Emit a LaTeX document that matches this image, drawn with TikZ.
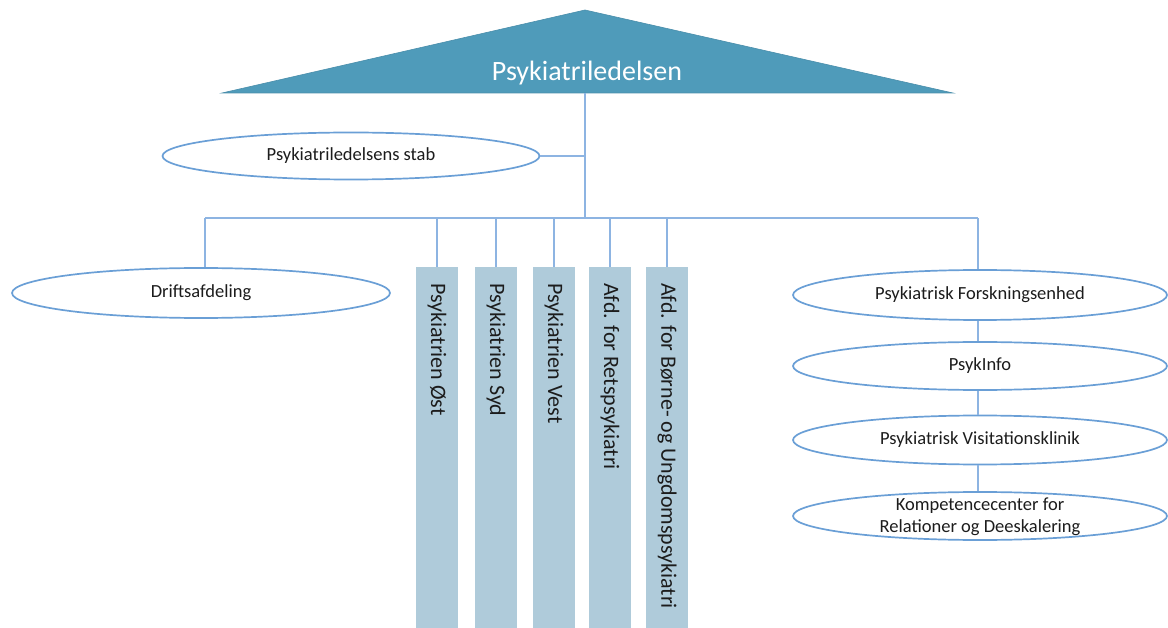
\documentclass[tikz,border=0pt]{standalone}
\usepackage{fontspec}
\setmainfont{Carlito}
\usetikzlibrary{shapes.geometric}
\definecolor{tri}{HTML}{4F9BBA}
\definecolor{trib}{HTML}{4A8EAB}
\definecolor{ell}{HTML}{6A9FD6}
\definecolor{lin}{HTML}{8DB4E2}
\definecolor{barc}{HTML}{AFCBDA}
\definecolor{txt}{HTML}{1C1C1C}
\begin{document}
\begin{tikzpicture}[x=1pt,y=-1pt,
  unit/.style={ellipse, draw=ell, line width=1.7pt, fill=white, minimum width=376pt,
    minimum height=48pt, inner sep=0pt, text=txt, font=\fontsize{18.5}{22}\selectfont, align=center},
  lbl/.style={inner sep=0pt, text=txt, font=\fontsize{18.5}{22}\selectfont, align=center},
  dept/.style={rectangle, fill=barc, rotate=-90, anchor=west, minimum width=361pt,
    minimum height=42pt, text width=361pt, inner xsep=0pt, inner ysep=0pt, align=flush left,
    text=txt, font=\fontsize{22}{26}\selectfont},
  conn/.style={draw=lin, line width=1.3pt}]
\useasboundingbox (0,0) rectangle (1168,628);
% top
\fill[tri, draw=trib, line width=0.6pt] (585,10) -- (953,93) -- (222,93) -- cycle;
\node[text=white, font=\fontsize{28}{32}\selectfont, inner sep=0pt] (top) at (587,73) {Psykiatriledelsen};
\coordinate (topbase) at (585,93);
\coordinate (bus) at (585,218);
% staff
\node[unit, minimum width=377pt, minimum height=47pt] (stab) at (351,156) {Psykiatriledelsens stab};
% left
\node[unit, minimum width=378pt, minimum height=50pt] (drift) at (201,293) {Driftsafdeling};
% bars
\node[dept] (b1) at (437,267) {\hspace*{16pt}Psykiatrien Øst};
\node[dept] (b2) at (496,267) {\hspace*{16pt}Psykiatrien Syd};
\node[dept] (b3) at (554,267) {\hspace*{16pt}Psykiatrien Vest};
\node[dept] (b4) at (610,267) {\hspace*{16pt}Afd. for Retspsykiatri};
\node[dept] (b5) at (667,267) {\hspace*{16pt}Afd. for Børne- og Ungdomspsykiatri};
% right column
\node[unit, minimum width=374pt, minimum height=50pt] (r1) at (980,295) {Psykiatrisk Forskningsenhed};
\node[unit, minimum width=374pt, minimum height=48pt] (r2) at (980,366) {PsykInfo};
\node[unit, minimum width=374pt, minimum height=49pt] (r3) at (980,440) {Psykiatrisk Visitationsklinik};
\node[unit, minimum width=374pt, minimum height=48pt] (r4) at (980,516) {};
\node[lbl] (r4t) at (980,517) {Kompetencecenter for\\Relationer og Deeskalering};
% connectors
\draw[conn] (topbase) -- (bus);
\draw[conn] (stab.east) -- (stab.east -| topbase);
\draw[conn] ([xshift=4pt]drift.north |- bus) -- ([xshift=-2pt]r1.north |- bus);
\draw[conn] ([xshift=4pt]drift.north) -- ([xshift=4pt]drift.north |- bus);
\foreach \b in {b1,b2,b3,b4,b5} \draw[conn] (\b.west) -- (\b.west |- bus);
\draw[conn] ([xshift=-2pt]r1.north) -- ([xshift=-2pt]r1.north |- bus);
\draw[conn] ([xshift=-2pt]r1.south) -- ([xshift=-2pt]r2.north);
\draw[conn] ([xshift=-2pt]r2.south) -- ([xshift=-2pt]r3.north);
\draw[conn] ([xshift=-2pt]r3.south) -- ([xshift=-2pt]r4.north);
\end{tikzpicture}
\end{document}
